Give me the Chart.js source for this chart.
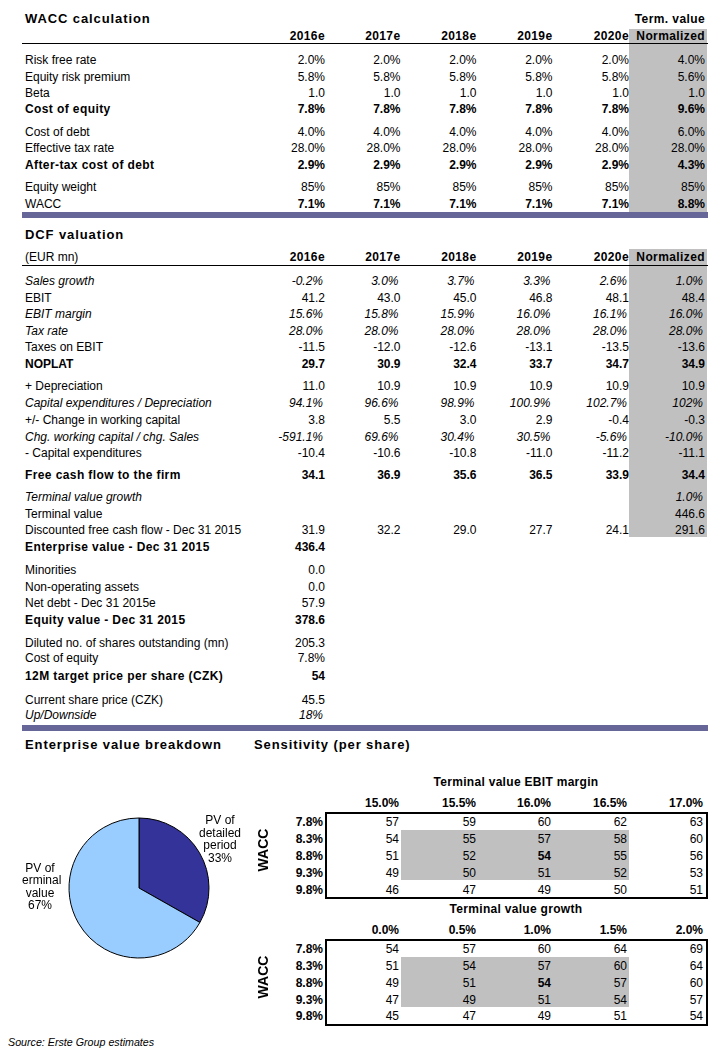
<!DOCTYPE html>
<html>
<head>
<meta charset="utf-8">
<script src="https://cdn.jsdelivr.net/npm/chart.js@4.4.1/dist/chart.umd.min.js"></script>
<style>
  body { margin: 0; background: #fff; font-family: "Liberation Sans", Arial, sans-serif; color: #000; }
  #page { position: relative; width: 727px; height: 1051px; overflow: hidden; }
  .t { position: absolute; font-size: 12px; line-height: 14px; white-space: nowrap; }
  .b { font-weight: bold; }
  .bs { font-weight: bold; letter-spacing: 0.4px; }
  .i { font-style: italic; }
  .h { font-weight: bold; font-size: 13px; letter-spacing: 0.9px; }
  .src { font-style: italic; font-size: 10.7px; }
  .rect { position: absolute; }
  #pieBox { position: absolute; left: 22px; top: 760px; width: 234px; height: 256px; }
</style>
</head>
<body>
<div id="page"><div id="pieBox"><canvas id="pie"></canvas></div></div>
<script>
// ---- data ----
const years = ['2016e', '2017e', '2018e', '2019e', '2020e'];

const waccLabels = ['Risk free rate', 'Equity risk premium', 'Beta', 'Cost of equity',
  'Cost of debt', 'Effective tax rate', 'After-tax cost of debt', 'Equity weight', 'WACC'];
const waccValues = [
  ['2.0%', '2.0%', '2.0%', '2.0%', '2.0%', '4.0%'],
  ['5.8%', '5.8%', '5.8%', '5.8%', '5.8%', '5.6%'],
  ['1.0', '1.0', '1.0', '1.0', '1.0', '1.0'],
  ['7.8%', '7.8%', '7.8%', '7.8%', '7.8%', '9.6%'],
  ['4.0%', '4.0%', '4.0%', '4.0%', '4.0%', '6.0%'],
  ['28.0%', '28.0%', '28.0%', '28.0%', '28.0%', '28.0%'],
  ['2.9%', '2.9%', '2.9%', '2.9%', '2.9%', '4.3%'],
  ['85%', '85%', '85%', '85%', '85%', '85%'],
  ['7.1%', '7.1%', '7.1%', '7.1%', '7.1%', '8.8%']
];

const dcfLabels = ['Sales growth', 'EBIT', 'EBIT margin', 'Tax rate', 'Taxes on EBIT', 'NOPLAT',
  '+ Depreciation', 'Capital expenditures / Depreciation', '+/- Change in working capital',
  'Chg. working capital / chg. Sales', '- Capital expenditures', 'Free cash flow to the firm',
  'Terminal value growth', 'Terminal value', 'Discounted free cash flow  - Dec 31 2015',
  'Enterprise value - Dec 31 2015', 'Minorities', 'Non-operating assets', 'Net debt - Dec 31 2015e',
  'Equity value - Dec 31 2015', 'Diluted no. of shares outstanding (mn)', 'Cost of equity',
  '12M target price per share (CZK)', 'Current share price (CZK)', 'Up/Downside'];
const dcfValues = [
  ['-0.2%', '3.0%', '3.7%', '3.3%', '2.6%', '1.0%'],
  ['41.2', '43.0', '45.0', '46.8', '48.1', '48.4'],
  ['15.6%', '15.8%', '15.9%', '16.0%', '16.1%', '16.0%'],
  ['28.0%', '28.0%', '28.0%', '28.0%', '28.0%', '28.0%'],
  ['-11.5', '-12.0', '-12.6', '-13.1', '-13.5', '-13.6'],
  ['29.7', '30.9', '32.4', '33.7', '34.7', '34.9'],
  ['11.0', '10.9', '10.9', '10.9', '10.9', '10.9'],
  ['94.1%', '96.6%', '98.9%', '100.9%', '102.7%', '102%'],
  ['3.8', '5.5', '3.0', '2.9', '-0.4', '-0.3'],
  ['-591.1%', '69.6%', '30.4%', '30.5%', '-5.6%', '-10.0%'],
  ['-10.4', '-10.6', '-10.8', '-11.0', '-11.2', '-11.1'],
  ['34.1', '36.9', '35.6', '36.5', '33.9', '34.4'],
  ['', '', '', '', '', '1.0%'],
  ['', '', '', '', '', '446.6'],
  ['31.9', '32.2', '29.0', '27.7', '24.1', '291.6'],
  ['436.4'], ['0.0'], ['0.0'], ['57.9'], ['378.6'],
  ['205.3'], ['7.8%'], ['54'], ['45.5'], ['18%']
];

const sensWacc = ['7.8%', '8.3%', '8.8%', '9.3%', '9.8%'];
const ebitMargins = ['15.0%', '15.5%', '16.0%', '16.5%', '17.0%'];
const ebitGrid = [
  [57, 59, 60, 62, 63],
  [54, 55, 57, 58, 60],
  [51, 52, 54, 55, 56],
  [49, 50, 51, 52, 53],
  [46, 47, 49, 50, 51]
];
const tvGrowth = ['0.0%', '0.5%', '1.0%', '1.5%', '2.0%'];
const growthGrid = [
  [54, 57, 60, 64, 69],
  [51, 54, 57, 60, 64],
  [49, 51, 54, 57, 60],
  [47, 49, 51, 54, 57],
  [45, 47, 49, 51, 54]
];

const pieLabels = [['PV of', 'detailed', 'period'], ['PV of', 'terminal', 'value']];
const pieValues = [144.9, 291.6];

// ---- layout / styles ----
const colRight = [325, 400.5, 476.5, 552.5, 629, 705];
const waccY = [60.5, 77, 93.3, 109.7, 132.1, 148.5, 165, 187.5, 204.5];
const waccLabelCls = ['', '', '', 'bs', '', '', 'bs', '', ''];
const waccValueCls = ['', '', '', 'b', '', '', 'b', '', 'b'];
const dcfY = [281.7, 298, 314.8, 331.5, 347.8, 364.3, 386.7, 403.5, 420.5, 437.3, 453.7, 475.7,
  497.3, 514.3, 530.7, 547.5, 570, 587, 603.5, 620, 643, 658.7, 676.7, 700, 715.7];
const dcfStyle = ['i', '', 'i', 'i', '', 'b', '', 'i', '', 'i', '', 'bs', 'i', '', '', 'bs',
  '', '', '', 'bs', '', '', 'bs', '', 'i'];

const page = document.getElementById('page');

function put(text, x, y, cls, align) {
  const d = document.createElement('div');
  d.className = 't ' + (cls || '');
  d.textContent = text;
  d.style.top = (y - 7.5) + 'px';
  if (align === 'right') d.style.right = (727 - x) + 'px';
  else if (align === 'center') { d.style.left = x + 'px'; d.style.transform = 'translateX(-50%)'; }
  else d.style.left = x + 'px';
  page.appendChild(d);
  return d;
}
function rect(x, y, w, h, css) {
  const d = document.createElement('div');
  d.className = 'rect';
  Object.assign(d.style, { left: x + 'px', top: y + 'px', width: w + 'px', height: h + 'px' }, css);
  page.appendChild(d);
}

// grey "normalized" columns and bars
rect(629, 29, 78, 183, { background: '#c0c0c0' });
rect(629, 249, 78, 288, { background: '#c0c0c0' });
rect(22, 43, 686, 1, { background: '#000' });
rect(22, 265, 686, 1, { background: '#000' });
rect(22, 212, 686, 5.5, { background: '#666699' });
rect(22, 725, 686, 5.5, { background: '#666699' });

// WACC table
put('WACC calculation', 25, 19, 'h');
put('Term. value', 705, 19.5, 'bs', 'right');
years.forEach((y, i) => put(y, colRight[i], 36.5, 'bs', 'right'));
put('Normalized', 705, 36.5, 'bs', 'right');
waccLabels.forEach((lab, r) => {
  put(lab, 25, waccY[r], waccLabelCls[r]);
  waccValues[r].forEach((v, c) => put(v, colRight[c], waccY[r], waccValueCls[r], 'right'));
});

// DCF table
put('DCF valuation', 25, 235, 'h');
put('(EUR mn)', 25, 257, '');
years.forEach((y, i) => put(y, colRight[i], 257, 'bs', 'right'));
put('Normalized', 705, 257, 'bs', 'right');
dcfLabels.forEach((lab, r) => {
  const cls = dcfStyle[r];
  put(lab, 25, dcfY[r], cls);
  const vcls = cls === 'bs' ? 'b' : cls;
  dcfValues[r].forEach((v, c) => {
    if (v !== '') put(v, colRight[c] - (cls === 'i' ? 2 : 0), dcfY[r], vcls, 'right');
  });
});

// Sensitivity tables
put('Enterprise value breakdown', 25, 745, 'h');
put('Sensitivity (per share)', 254, 745, 'h');

const sensRight = [399, 476, 551, 627, 703];
function sensTable(title, heads, grid, top) {
  put(title, 516, top, 'b', 'center').style.letterSpacing = '0.3px';
  heads.forEach((h, i) => put(h, sensRight[i], top + 21, 'b', 'right'));
  rect(401, top + 48, 228, 50, { background: '#c0c0c0' });
  rect(325, top + 30, 383, 87, { border: '2px solid #000', boxSizing: 'border-box' });
  const rowY = [top + 40.5, top + 57.5, top + 74.5, top + 91, top + 107.8];
  sensWacc.forEach((w, r) => {
    put(w, 323, rowY[r], 'b', 'right');
    grid[r].forEach((v, c) => put(String(v), sensRight[c], rowY[r], (r === 2 && c === 2) ? 'b' : '', 'right'));
  });
  const wl = put('WACC', 263, top + 68, 'b', 'left');
  wl.style.fontSize = '14px';
  wl.style.transform = 'translate(-50%, 0) rotate(-90deg)';
}
sensTable('Terminal value EBIT margin', ebitMargins, ebitGrid, 782.3);
sensTable('Terminal value growth', tvGrowth, growthGrid, 909);

put('Source: Erste Group estimates', 8, 1042, 'src');

// ---- pie ----
const labelAnchor = [[1.157, -0.69], [-1.414, -0.014]];
const pieLabelPlugin = {
  id: 'pieLabels',
  afterDatasetsDraw(chart) {
    const ctx = chart.ctx;
    const meta = chart.getDatasetMeta(0);
    const total = pieValues.reduce((a, b) => a + b, 0);
    ctx.save();
    ctx.font = '12px "Liberation Sans", Arial, sans-serif';
    ctx.fillStyle = '#000';
    ctx.textAlign = 'center';
    ctx.textBaseline = 'middle';
    meta.data.forEach((arc, i) => {
      const lines = [...pieLabels[i], Math.round(pieValues[i] / total * 100) + '%'];
      const cx = arc.x + labelAnchor[i][0] * arc.outerRadius;
      const cy = arc.y + labelAnchor[i][1] * arc.outerRadius;
      lines.forEach((s, k) => ctx.fillText(s, cx, cy + (k - (lines.length - 1) / 2) * 12.5));
    });
    ctx.restore();
  }
};

new Chart(document.getElementById('pie'), {
  type: 'pie',
  data: {
    labels: pieLabels.map(l => l.join(' ')),
    datasets: [{
      data: pieValues,
      backgroundColor: ['#333399', '#99ccff'],
      borderColor: '#000',
      borderWidth: 1
    }]
  },
  options: {
    responsive: true,
    maintainAspectRatio: false,
    animation: false,
    radius: 70,
    layout: { padding: 0 },
    plugins: { legend: { display: false }, tooltip: { enabled: false } }
  },
  plugins: [pieLabelPlugin]
});
</script>
</body>
</html>
